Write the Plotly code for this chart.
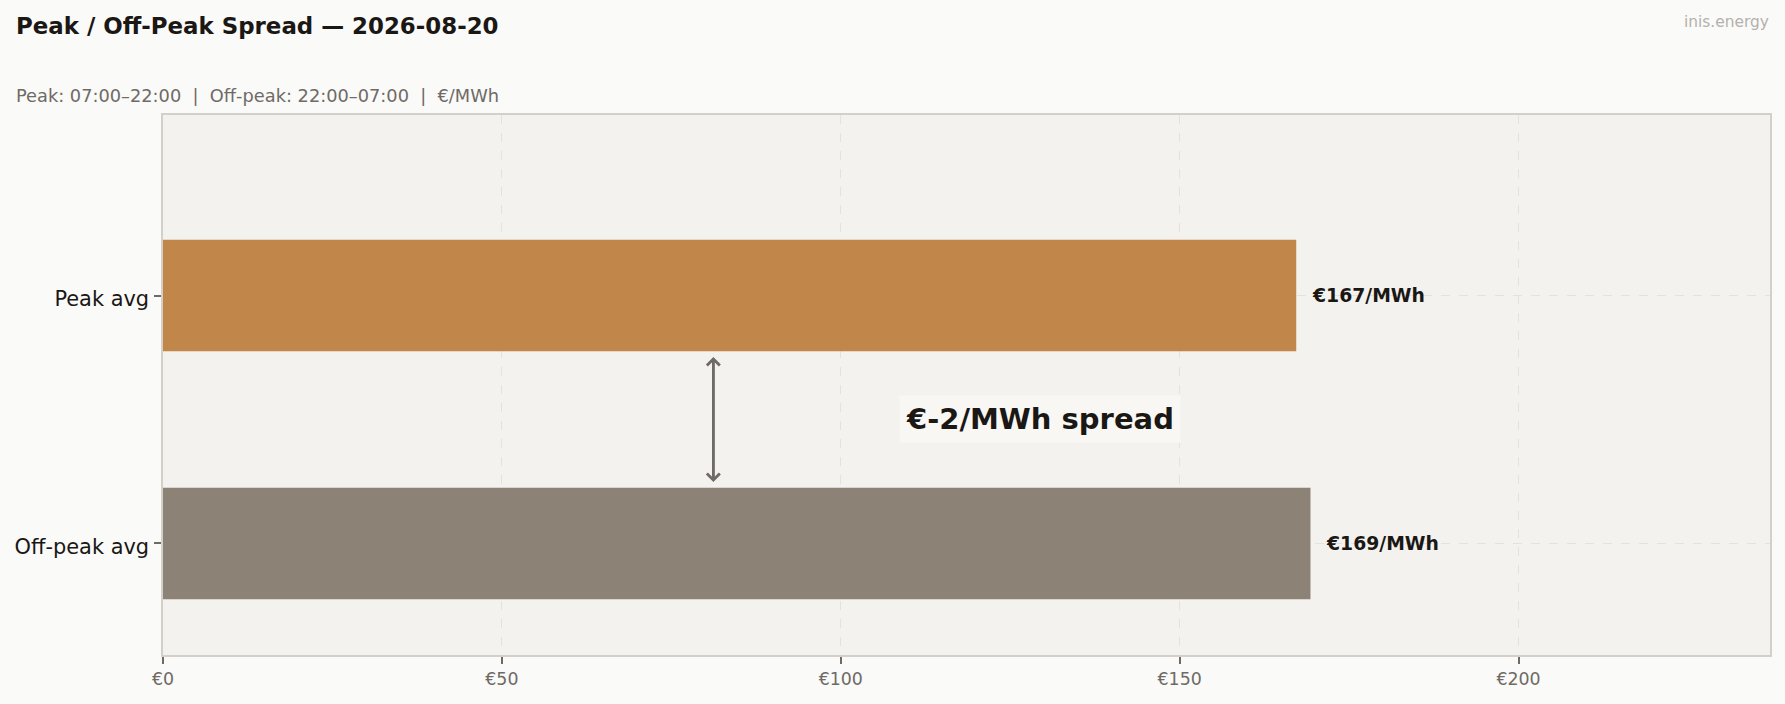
import plotly.graph_objects as go

# ---- data ----
categories = ["Peak avg", "Off-peak avg"]
values = [167.2, 169.3]
bar_colors = ["#C0864A", "#8C8276"]
value_labels = ["€167/MWh", "€169/MWh"]
x_tick_vals = [0, 50, 100, 150, 200]
x_tick_text = ["€0", "€50", "€100", "€150", "€200"]
spread_label = "€-2/MWh spread"
title_text = "Peak / Off-Peak Spread — 2026-08-20"
subtitle_text = "Peak: 07:00–22:00  |  Off-peak: 22:00–07:00  |  €/MWh"
watermark_text = "inis.energy"

FONT = "DejaVu Sans"
DARK = "#1A1714"
GRAY = "#6F6A66"

W, H = 1785, 704
ML, MR, MT, MB = 163, 15, 115, 49
PW, PH = W - ML - MR, H - MT - MB


def px_x(px):
    return (px - ML) / PW


def px_y(py):
    return (H - MB - py) / PH


fig = go.Figure()
fig.add_trace(go.Bar(
    x=values, y=categories, orientation="h",
    marker=dict(color=bar_colors, line=dict(width=0)),
    width=0.45, hoverinfo="skip", showlegend=False,
))

annotations = []
for cat, val, lab in zip(categories, values, value_labels):
    annotations.append(dict(
        x=val, y=cat, xref="x", yref="y", text=lab, showarrow=False,
        xanchor="left", yanchor="middle", xshift=14,
        font=dict(family=FONT, size=18.8, color=DARK, weight="bold"),
    ))

# double-headed spread arrow between the bars
arrow_x = 81.2
for y_tip, y_tail in ((0.752, 0.25), (0.248, 0.75)):
    annotations.append(dict(
        x=arrow_x, y=y_tip, ax=arrow_x, ay=y_tail,
        xref="x", yref="y", axref="x", ayref="y",
        text="", showarrow=True, arrowhead=4, arrowsize=1.0,
        arrowwidth=2.5, arrowcolor=GRAY, standoff=0,
    ))

annotations.append(dict(
    x=129.4, y=0.5, xref="x", yref="y", text=spread_label, showarrow=False,
    xanchor="center", yanchor="middle",
    font=dict(family=FONT, size=29, color=DARK, weight="bold"),
    bgcolor="#F8F7F4", borderpad=6,
))

annotations.append(dict(
    x=px_x(14), y=px_y(26), xref="paper", yref="paper", text=title_text,
    showarrow=False, xanchor="left", yanchor="middle",
    font=dict(family=FONT, size=22.9, color=DARK, weight="bold"),
))
annotations.append(dict(
    x=px_x(14), y=px_y(96), xref="paper", yref="paper", text=subtitle_text,
    showarrow=False, xanchor="left", yanchor="middle",
    font=dict(family=FONT, size=17.8, color=GRAY),
))
annotations.append(dict(
    x=px_x(1771), y=px_y(22), xref="paper", yref="paper", text=watermark_text,
    showarrow=False, xanchor="right", yanchor="middle",
    font=dict(family=FONT, size=15.4, color="#B5B1AD"),
))

fig.update_layout(
    width=W, height=H,
    margin=dict(l=ML, r=MR, t=MT, b=MB),
    paper_bgcolor="#FAFAF8", plot_bgcolor="#F3F2EF",
    font=dict(family=FONT, color=DARK),
    annotations=annotations,
    showlegend=False,
    xaxis=dict(
        range=[0, 237.1], tickvals=x_tick_vals, ticktext=x_tick_text,
        tickfont=dict(family=FONT, size=17.4, color=GRAY),
        showgrid=True, gridcolor="#E5E2DD", griddash="dash", gridwidth=1,
        zeroline=False, showline=True, mirror=True,
        linecolor="#D4CFC9", linewidth=1.5,
        ticks="outside", ticklen=7, tickwidth=1.5, tickcolor=GRAY,
        fixedrange=True,
    ),
    yaxis=dict(
        type="category", categoryorder="array",
        categoryarray=["Off-peak avg", "Peak avg"],
        range=[-0.45, 1.728],
        tickfont=dict(family=FONT, size=20.9, color=DARK),
        ticklabelstandoff=1, ticklabelshift=3,
        showgrid=True, gridcolor="#E5E2DD", griddash="dash", gridwidth=1,
        zeroline=False, showline=True, mirror=True,
        linecolor="#D4CFC9", linewidth=1.5,
        ticks="outside", ticklen=7, tickwidth=1.5, tickcolor=GRAY,
        fixedrange=True,
    ),
)

fig.write_html(
    "out.html",
    config={"displayModeBar": False},
    post_script="document.body.style.margin='0';document.body.style.overflow='hidden';",
)
